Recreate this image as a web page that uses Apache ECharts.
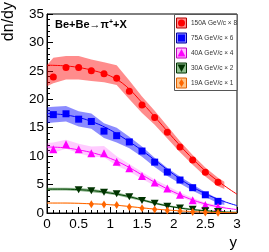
<!DOCTYPE html>
<html><head><meta charset="utf-8">
<script src="https://cdn.jsdelivr.net/npm/echarts@6/dist/echarts.min.js"></script>
<style>html,body{margin:0;padding:0;background:#fff}#c{width:269px;height:252px}</style>
</head><body><div id="c"></div>
<script>
// ---- data ----
const xPts = [0.1,0.3,0.5,0.7,0.9,1.1,1.3,1.5,1.7,1.9,2.1,2.3,2.5,2.7];
const red150 = [23.9,25.6,25.6,25.0,24.5,23.7,21.4,19.0,16.8,14.2,11.6,9.3,7.15,5.4];
const blue75 = [17.3,17.45,16.5,16.1,14.4,13.6,12.5,10.9,8.95,7.2,5.8,4.45,3.2,2.05];
const mag40  = [11.2,12.1,11.2,10.5,10.5,9.0,7.85,6.5,5.35,4.3,3.2,2.25,1.4,1.05];
const xGreen = [0.5,0.7,0.9,1.1,1.3,1.5,1.7,1.9,2.1,2.3,2.5,2.7];
const grn30  = [4.1,3.9,3.65,3.4,2.85,2.2,1.7,1.2,0.9,0.65,0.4,0.25];
const xOrange = [0.7,0.9,1.1,1.3,1.5,1.7,1.9,2.1,2.3,2.5,2.7];
const org19  = [1.55,1.5,1.4,1.05,0.85,0.6,0.42,0.3,0.18,0.1,0.06];

const fitX = [0,0.25,0.5,0.75,1.0,1.25,1.5,1.75,2.0,2.25,2.5,2.75,3.0];
const fitRed = [26.0,25.9,25.6,25.0,24.1,22.3,19.4,16.3,13.1,10.1,7.4,5.2,3.3];
const fitBlue = [17.5,17.3,16.8,15.9,14.6,12.9,11.0,8.9,6.8,4.9,3.4,2.2,1.3];
const fitMag = [11.6,11.5,11.1,10.5,9.6,8.3,6.7,5.1,3.7,2.5,1.6,1.0,0.6];
const fitGrn = [4.2,4.2,4.1,3.9,3.5,3.0,2.3,1.6,1.05,0.65,0.4,0.22,0.12];
const fitOrg = [1.75,1.75,1.7,1.6,1.45,1.2,0.9,0.65,0.45,0.28,0.16,0.09,0.05];

const bandX = [0,0.1,0.3,0.5,0.7,0.9,1.1,1.3,1.5,1.7,1.9,2.1,2.3,2.5,2.7,2.8];
const redUp = [26.0,27.3,27.6,27.6,27.0,26.5,26.0,23.3,20.5,18.0,15.3,12.6,10.2,8.0,6.2,5.5];
const redLo = [22.3,22.8,23.5,23.5,23.2,23.0,22.5,20.0,17.6,15.5,13.1,10.7,8.5,6.4,4.7,4.2];
const blueUp = [18.6,18.7,18.8,17.9,17.5,15.8,15.0,13.4,11.7,9.7,7.9,6.4,5.0,3.7,2.5,2.2];
const blueLo = [15.8,15.9,16.1,15.2,14.8,13.2,12.4,11.4,9.9,8.1,6.5,5.2,3.9,2.8,1.7,1.4];
const magUp = [12.3,12.4,12.9,12.2,11.7,11.8,10.0,8.6,7.2,5.9,4.8,3.6,2.7,1.8,1.4,1.2];
const magLo = [10.6,10.6,11.3,10.5,9.9,9.8,8.3,7.3,6.0,4.8,3.8,2.8,2.0,1.2,0.9,0.8];
const grnUp = [4.45,4.45,4.45,4.4,4.2,3.95,3.6,3.1,2.5,1.95,1.4,1.05,0.75,0.5,0.35,0.3];
const grnLo = [3.95,3.95,3.95,3.85,3.65,3.45,3.1,2.6,2.1,1.55,1.1,0.75,0.5,0.3,0.15,0.12];
const orgUp = [1.85,1.85,1.85,1.8,1.7,1.65,1.5,1.25,1.0,0.78,0.57,0.4,0.27,0.18,0.12,0.1];
const orgLo = [1.65,1.65,1.65,1.6,1.5,1.45,1.3,1.05,0.8,0.62,0.43,0.3,0.17,0.1,0.06,0.04];

const legendLabels = ['150A GeV/c × 8','75A GeV/c × 6','40A GeV/c × 4','30A GeV/c × 2','19A GeV/c × 1'];
const xTicks = [0,0.5,1,1.5,2,2.5,3];
const yTicks = [0,5,10,15,20,25,30,35];

// ---- styles ----
const FONT = 'Liberation Sans, Arial, sans-serif';
const invTri = 'path://M0,0L10,0L5,9Z';
const sty = [
  {line:'#ff0000', mark:'#ff0000', sym:'circle', size:7, band:'rgba(255,0,0,0.45)', box:'#ff8a8a', border:'#b00000'},
  {line:'#0000ff', mark:'#0000ff', sym:'rect', size:7, band:'rgba(0,0,255,0.45)', box:'#8a8aff', border:'#0000a0'},
  {line:'#ff00ff', mark:'#ff00ff', sym:'triangle', size:8, band:'rgba(255,0,255,0.2)', box:'#ffb8ff', border:'#c000c0'},
  {line:'#004400', mark:'#003300', sym:invTri, size:[8,7], band:'rgba(0,90,0,0.45)', box:'#8fbf8f', border:'#003300'},
  {line:'#ff6600', mark:'#ff6600', sym:'diamond', size:[5,8], band:'rgba(255,140,0,0.3)', box:'#ffc488', border:'#e06000'}
];

function pairs(xs, ys){ return ys.map((y,i)=>[xs[i], y]); }
function band(up, lo, color){
  return {type:'custom', silent:true, z:1, data:[[0,0]],
    renderItem:function(params, api){
      const pts=[];
      for(let i=0;i<bandX.length;i++) pts.push(api.coord([bandX[i], up[i]]));
      for(let i=bandX.length-1;i>=0;i--) pts.push(api.coord([bandX[i], lo[i]]));
      return {type:'polygon', shape:{points:pts}, style:{fill:color}};
    }};
}
function fit(ys, color){
  return {type:'line', data:pairs(fitX, ys), smooth:0.4, symbol:'none', z:2,
    lineStyle:{color:color, width:1}};
}
function pts(xs, ys, s){
  return {type:'scatter', data:pairs(xs, ys), symbol:s.sym, symbolSize:s.size, z:3,
    itemStyle:{color:s.mark, opacity:1}};
}

const series = [
  band(redUp, redLo, sty[0].band), band(blueUp, blueLo, sty[1].band), band(magUp, magLo, sty[2].band),
  band(grnUp, grnLo, sty[3].band), band(orgUp, orgLo, sty[4].band),
  fit(fitRed, sty[0].line), fit(fitBlue, sty[1].line), fit(fitMag, sty[2].line),
  fit(fitGrn, sty[3].line), fit(fitOrg, sty[4].line),
  pts(xPts, red150, sty[0]), pts(xPts, blue75, sty[1]), pts(xPts, mag40, sty[2]),
  pts(xGreen, grn30, sty[3]), pts(xOrange, org19, sty[4])
];

// ---- legend as graphic ----
const graphic = [];
graphic.push({type:'rect', shape:{x:174.5, y:14.5, width:62.5, height:76}, style:{fill:'#fff', stroke:'#555', lineWidth:1}, z:10});
legendLabels.forEach((lab, i) => {
  const cy = 23 + 15*i, cx = 181.5, s = sty[i];
  graphic.push({type:'rect', shape:{x:cx-5, y:cy-5, width:10, height:10}, style:{fill:s.box, stroke:s.border, lineWidth:1}, z:11});
  let m;
  if (i===0) m = {type:'circle', shape:{cx:cx, cy:cy, r:3.5}};
  else if (i===1) m = {type:'rect', shape:{x:cx-3.5, y:cy-3.5, width:7, height:7}};
  else if (i===2) m = {type:'polygon', shape:{points:[[cx,cy-4],[cx+4,cy+3.5],[cx-4,cy+3.5]]}};
  else if (i===3) m = {type:'polygon', shape:{points:[[cx-4,cy-3.5],[cx+4,cy-3.5],[cx,cy+4]]}};
  else m = {type:'polygon', shape:{points:[[cx,cy-4],[cx+2.5,cy],[cx,cy+4],[cx-2.5,cy]]}};
  m.style = {fill:s.mark}; m.z = 12;
  graphic.push(m);
  graphic.push({type:'text', x:191, y:cy, z:12, style:{text:lab, font:'6.5px '+FONT, fill:'#333', verticalAlign:'middle', align:'left'}});
});
graphic.push({type:'text', x:55, y:25, z:12, style:{
  text:'{a|Be+Be→π}{s|+}{a|+X}', verticalAlign:'middle',
  rich:{a:{fontFamily:FONT, fontWeight:'bold', fontSize:11, fill:'#000', color:'#000'},
        s:{fontFamily:FONT, fontWeight:'bold', fontSize:7, fill:'#000', color:'#000', verticalAlign:'top', padding:[0,0,6,0]}}}});
graphic.push({type:'text', x:9, y:2, rotation:Math.PI/2, z:12, style:{text:'dn/dy', font:'16px '+FONT, fill:'#000', align:'right', verticalAlign:'middle'}});
graphic.push({type:'text', x:237, y:243, z:12, style:{text:'y', font:'15px '+FONT, fill:'#000', align:'right', verticalAlign:'middle'}});

const chart = echarts.init(document.getElementById('c'), null, {renderer:'canvas'});
chart.setOption({
  animation:false,
  grid:{left:47, right:32, top:14, bottom:39, show:true, borderColor:'#000', borderWidth:1, backgroundColor:'transparent'},
  xAxis:{type:'value', min:0, max:3, interval:0.5,
    axisLine:{lineStyle:{color:'#000', width:1}},
    axisTick:{inside:true, length:6, lineStyle:{color:'#000'}},
    minorTick:{show:true, splitNumber:5, length:3, lineStyle:{color:'#000'}},
    splitLine:{show:false},
    axisLabel:{color:'#000', fontFamily:FONT, fontSize:13.5, margin:4,
      formatter:function(v){ return xTicks.indexOf(v)>=0 ? String(v) : ''; }}},
  yAxis:{type:'value', min:0, max:35, interval:5,
    axisLine:{lineStyle:{color:'#000', width:1}},
    axisTick:{inside:true, length:6, lineStyle:{color:'#000'}},
    minorTick:{show:true, splitNumber:5, length:3, lineStyle:{color:'#000'}},
    splitLine:{show:false},
    axisLabel:{color:'#000', fontFamily:FONT, fontSize:13.5, margin:3,
      formatter:function(v){ return yTicks.indexOf(v)>=0 ? String(v) : ''; }}},
  series:series,
  graphic:graphic
});
</script></body></html>
